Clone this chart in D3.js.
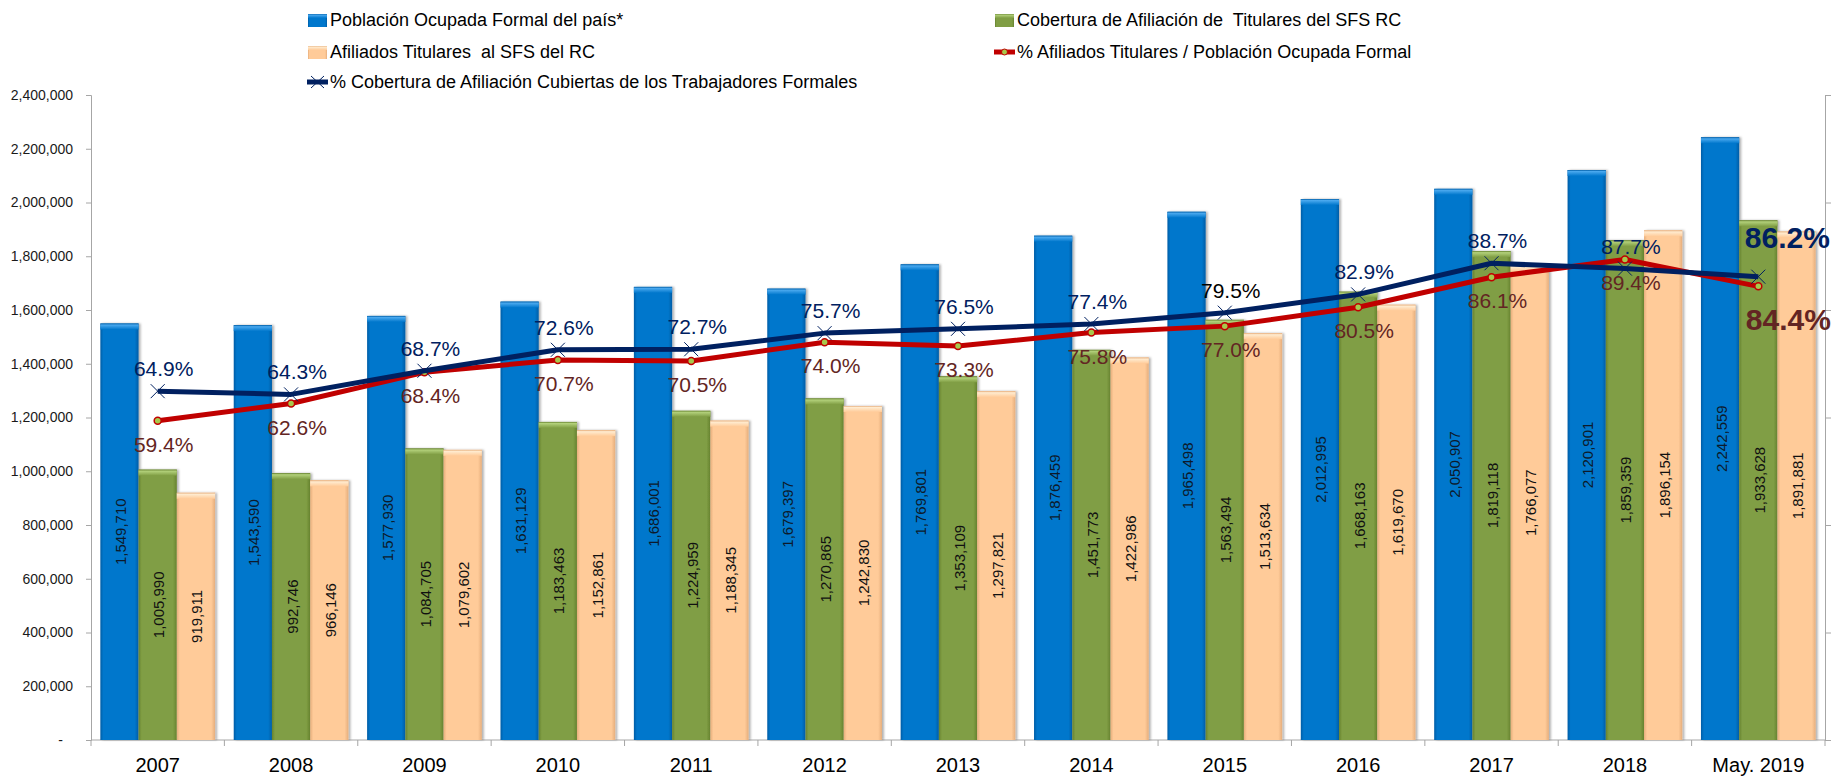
<!DOCTYPE html>
<html>
<head>
<meta charset="utf-8">
<script src="https://cdn.jsdelivr.net/npm/d3@7"></script>
<style>
  body { margin: 0; background: #fff; }
  svg { display: block; font-family: "Liberation Sans", Arial, sans-serif; }
  text { white-space: pre; }
</style>
</head>
<body>
<div id="chart"></div>
<script>
// categories and values
let years = ['2007', '2008', '2009', '2010', '2011', '2012', '2013', '2014', '2015', '2016', '2017', '2018', 'May. 2019'];

let poblacionOcupada = [1549710, 1543590, 1577930, 1631129, 1686001, 1679397, 1769801, 1876459, 1965498, 2012995, 2050907, 2120901, 2242559];
let coberturaTitulares = [1005990, 992746, 1084705, 1183463, 1224959, 1270865, 1353109, 1451773, 1563494, 1668163, 1819118, 1859359, 1933628];
let afiliadosTitulares = [919911, 966146, 1079602, 1152861, 1188345, 1242830, 1297821, 1422986, 1513634, 1619670, 1766077, 1896154, 1891881];

let pctAfiliados = [59.4, 62.6, 68.4, 70.7, 70.5, 74.0, 73.3, 75.8, 77.0, 80.5, 86.1, 89.4, 84.4];
let pctCobertura = [64.9, 64.3, 68.7, 72.6, 72.7, 75.7, 76.5, 77.4, 79.5, 82.9, 88.7, 87.7, 86.2];

let barNames = ['Población Ocupada Formal del país*', 'Cobertura de Afiliación de  Titulares del SFS RC', 'Afiliados Titulares  al SFS del RC'];
let lineNames = ['% Afiliados Titulares / Población Ocupada Formal', '% Cobertura de Afiliación Cubiertas de los Trabajadores Formales'];

let yTicks = [0, 200000, 400000, 600000, 800000, 1000000, 1200000, 1400000, 1600000, 1800000, 2000000, 2200000, 2400000];
let y2Ticks = [0, 0.2, 0.4, 0.6, 0.8, 1.0, 1.2];

let width = 1839;
let height = 777;
let margin = { top: 95, bottom: 37, left: 91, right: 12 };

let svg = d3.select('#chart')
  .append('svg')
  .attr('width', width)
  .attr('height', height);

// bar colours: main, dark edge, light top
let barColors = [
  { main: '#0077CC', edge: '#005DA6', top: '#49A8EE' },
  { main: '#809E44', edge: '#66822F', top: '#B2D07A' },
  { main: '#FFCB99', edge: '#E6AE7C', top: '#FFEBCF' }
];

let defs = svg.append('defs');
barColors.forEach(function(c, i) {
  let g = defs.append('linearGradient').attr('id', 'bar' + i).attr('x1', 0).attr('x2', 1).attr('y1', 0).attr('y2', 0);
  g.append('stop').attr('offset', 0).attr('stop-color', c.edge);
  g.append('stop').attr('offset', 0.08).attr('stop-color', c.main);
  g.append('stop').attr('offset', 0.9).attr('stop-color', c.main);
  g.append('stop').attr('offset', 1).attr('stop-color', c.edge);
  let t = defs.append('linearGradient').attr('id', 'top' + i).attr('x1', 0).attr('x2', 0).attr('y1', 0).attr('y2', 1);
  t.append('stop').attr('offset', 0).attr('stop-color', c.edge);
  t.append('stop').attr('offset', 0.25).attr('stop-color', c.top);
  t.append('stop').attr('offset', 1).attr('stop-color', c.main);
});
defs.append('filter').attr('id', 'shadow').attr('x', -0.2).attr('width', 1.5)
  .append('feDropShadow').attr('dx', 2).attr('dy', 0).attr('stdDeviation', 1.2).attr('flood-color', '#000').attr('flood-opacity', 0.3);

// scales
let x0 = d3.scaleBand()
  .domain(years)
  .range([margin.left, width - margin.right - 2])
  .paddingInner(0.14)
  .paddingOuter(0.07);

let x1 = d3.scaleBand()
  .domain([0, 1, 2])
  .range([0, x0.bandwidth()]);

let y = d3.scaleLinear()
  .domain([0, 2400000])
  .range([height - margin.bottom, margin.top]);

let y2 = d3.scaleLinear()
  .domain([0, 1.2])
  .range([height - margin.bottom, margin.top]);

let xCenter = function(i) { return x0(years[i]) + x0.bandwidth() / 2; };
let plotRight = width - margin.right - 2;

// axes
let yAxis = svg.append('g')
  .attr('transform', `translate(${margin.left},0)`)
  .call(d3.axisLeft(y).tickValues(yTicks).tickSize(5).tickPadding(13)
    .tickFormat(function(d) { return d === 0 ? '-' : d3.format(',')(d); }));
yAxis.selectAll('text').style('font-size', '14px').attr('fill', '#1a1a1a');
yAxis.selectAll('text').filter(function(d) { return d === 0; }).attr('dx', -10);
yAxis.selectAll('line, path').attr('stroke', '#A6A6A6');

let y2Axis = svg.append('g')
  .attr('transform', `translate(${plotRight},0)`)
  .call(d3.axisRight(y2).tickValues(y2Ticks).tickSize(6).tickFormat(''));
y2Axis.selectAll('line, path').attr('stroke', '#A6A6A6');

let xAxis = svg.append('g')
  .attr('transform', `translate(0,${height - margin.bottom})`)
  .call(d3.axisBottom(x0).tickSize(0).tickPadding(18).tickSizeOuter(0));
xAxis.selectAll('text').style('font-size', '20px').attr('fill', '#000');
xAxis.select('path').attr('stroke', '#A6A6A6').attr('d', `M${margin.left},0H${plotRight}`);
// category boundary ticks
xAxis.selectAll('.bound')
  .data(d3.range(years.length + 1))
  .enter()
  .append('line')
  .attr('x1', function(i) { return margin.left + i * x0.step(); })
  .attr('x2', function(i) { return margin.left + i * x0.step(); })
  .attr('y1', 0)
  .attr('y2', 6)
  .attr('stroke', '#A6A6A6');

// bars
let barSeries = [poblacionOcupada, coberturaTitulares, afiliadosTitulares];
barSeries.forEach(function(values, s) {
  let g = svg.append('g');
  let bars = g.selectAll('g')
    .data(values)
    .enter()
    .append('g')
    .attr('transform', function(d, i) { return `translate(${x0(years[i]) + x1(s)},0)`; });
  bars.append('rect')
    .attr('y', function(d) { return y(d); })
    .attr('width', x1.bandwidth())
    .attr('height', function(d) { return y(0) - y(d); })
    .attr('fill', 'url(#bar' + s + ')')
    .attr('filter', 'url(#shadow)');
  bars.append('rect') // bevel on top
    .attr('y', function(d) { return y(d); })
    .attr('width', x1.bandwidth())
    .attr('height', 6)
    .attr('fill', 'url(#top' + s + ')');
  bars.append('text')
    .attr('transform', function(d) { return `translate(${x1.bandwidth() / 2 + 1},${(y(d) + y(0)) / 2}) rotate(-90)`; })
    .attr('text-anchor', 'middle')
    .attr('dominant-baseline', 'central')
    .style('font-size', '15px')
    .attr('fill', s === 0 ? '#0d1a2b' : '#111')
    .text(function(d) { return d3.format(',')(d); });
});

// lines
let line = d3.line()
  .x(function(d, i) { return xCenter(i); })
  .y(function(d) { return y2(d / 100); });

svg.append('path')
  .datum(pctAfiliados)
  .attr('d', line)
  .attr('fill', 'none')
  .attr('stroke', '#C00000')
  .attr('stroke-width', 5)
  .attr('stroke-linejoin', 'round');

svg.append('g').selectAll('circle')
  .data(pctAfiliados)
  .enter()
  .append('circle')
  .attr('cx', function(d, i) { return xCenter(i); })
  .attr('cy', function(d) { return y2(d / 100); })
  .attr('r', 3.5)
  .attr('fill', '#A8C84C')
  .attr('stroke', '#C00000')
  .attr('stroke-width', 1.5);

svg.append('path')
  .datum(pctCobertura)
  .attr('d', line)
  .attr('fill', 'none')
  .attr('stroke', '#002060')
  .attr('stroke-width', 5)
  .attr('stroke-linejoin', 'round');

svg.append('g').selectAll('path')
  .data(pctCobertura)
  .enter()
  .append('path')
  .attr('d', function(d, i) {
    let cx = xCenter(i), cy = y2(d / 100), r = 7;
    return `M${cx - r},${cy - r}L${cx + r},${cy + r}M${cx - r},${cy + r}L${cx + r},${cy - r}`;
  })
  .attr('stroke', '#002060')
  .attr('stroke-width', 1);

// percentage labels
let last = years.length - 1;
svg.append('g').selectAll('text')
  .data(pctAfiliados)
  .enter()
  .append('text')
  .attr('x', function(d, i) { return xCenter(i) + (i === last ? 30 : 6); })
  .attr('y', function(d, i) { return y2(d / 100) + (i === last ? 44 : 31); })
  .attr('text-anchor', 'middle')
  .style('font-size', function(d, i) { return i === last ? '30px' : '21px'; })
  .style('font-weight', function(d, i) { return i === last ? 'bold' : 'normal'; })
  .attr('fill', '#632523')
  .text(function(d) { return d.toFixed(1) + '%'; });

svg.append('g').selectAll('text')
  .data(pctCobertura)
  .enter()
  .append('text')
  .attr('x', function(d, i) { return xCenter(i) + (i === last ? 29 : 6); })
  .attr('y', function(d, i) { return y2(d / 100) - (i === last ? 29 : 15); })
  .attr('text-anchor', 'middle')
  .style('font-size', function(d, i) { return i === last ? '30px' : '21px'; })
  .style('font-weight', function(d, i) { return i === last ? 'bold' : 'normal'; })
  .attr('fill', function(d, i) { return i === 8 ? '#000' : '#002060'; })
  .text(function(d) { return d.toFixed(1) + '%'; });

// legend
let legend = svg.append('g').style('font-size', '18px');
let legendItems = [
  { name: barNames[0], type: 'bar', s: 0, x: 307, y: 20 },
  { name: barNames[1], type: 'bar', s: 1, x: 994, y: 20 },
  { name: barNames[2], type: 'bar', s: 2, x: 307, y: 52 },
  { name: lineNames[0], type: 'red', x: 994, y: 52 },
  { name: lineNames[1], type: 'blue', x: 307, y: 82 }
];
legendItems.forEach(function(it) {
  let g = legend.append('g').attr('transform', `translate(${it.x},${it.y})`);
  if (it.type === 'bar') {
    g.append('rect').attr('x', 1).attr('y', -6).attr('width', 19).attr('height', 13).attr('fill', 'url(#bar' + it.s + ')');
    g.append('rect').attr('x', 1).attr('y', -6).attr('width', 19).attr('height', 4).attr('fill', 'url(#top' + it.s + ')');
  } else if (it.type === 'red') {
    g.append('line').attr('x1', 0).attr('x2', 21).attr('y1', 0).attr('y2', 0).attr('stroke', '#C00000').attr('stroke-width', 5);
    g.append('circle').attr('cx', 10.5).attr('cy', 0).attr('r', 3).attr('fill', '#A8C84C').attr('stroke', '#C00000');
  } else {
    g.append('line').attr('x1', 0).attr('x2', 21).attr('y1', 0).attr('y2', 0).attr('stroke', '#002060').attr('stroke-width', 5);
    g.append('path').attr('d', 'M4,-6L17,6M4,6L17,-6').attr('stroke', '#002060').attr('stroke-width', 1);
  }
  g.append('text')
    .attr('x', 23)
    .attr('y', 0)
    .attr('dominant-baseline', 'central')
    .attr('fill', '#000')
    .text(it.name);
});
</script>
</body>
</html>
